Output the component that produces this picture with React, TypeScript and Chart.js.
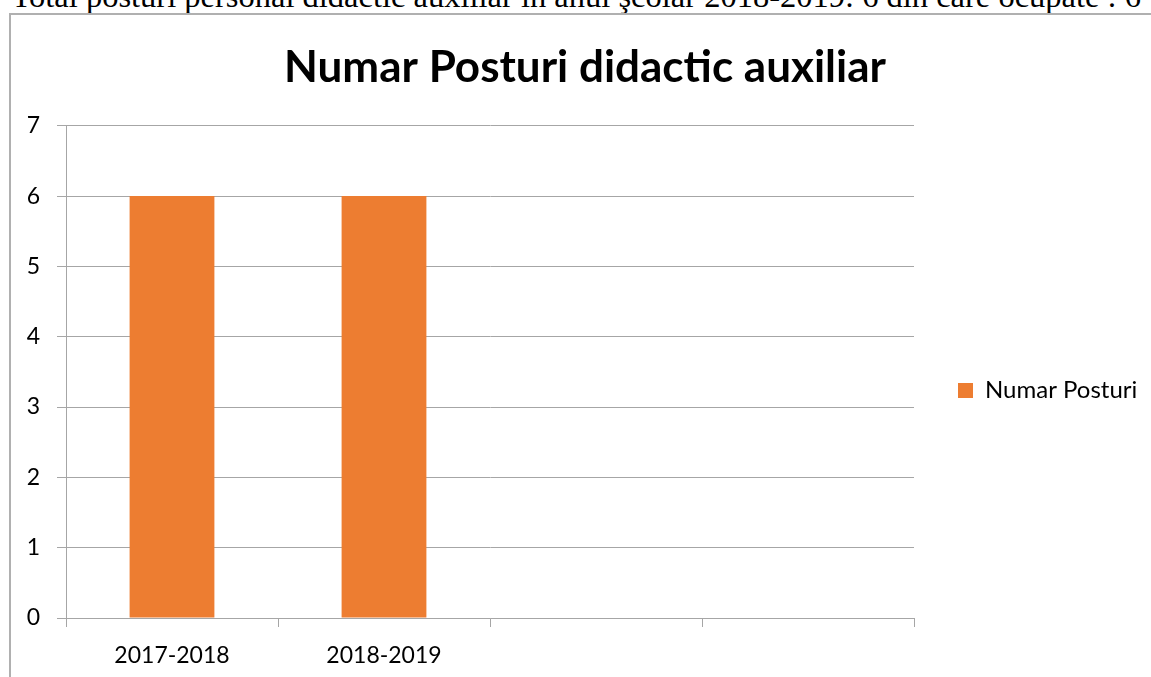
import React, { useEffect, useRef } from "react";
import { Chart, registerables } from "chart.js";

Chart.register(...registerables);

const headingText =
  "Total posturi personal didactic auxiliar în anul şcolar 2018-2019: 6 din care ocupate : 6";
const chartTitle = "Numar Posturi didactic auxiliar";
const categories = ["2017-2018", "2018-2019", "", ""];
const seriesLabel = "Numar Posturi";
const seriesValues: (number | null)[] = [6, 6, null, null];
const yTicks = [0, 1, 2, 3, 4, 5, 6, 7];

const ORANGE = "#ED7D31";
const GRID = "#a6a6a6";
const FONT = "Lato";

export default function App() {
  const canvasRef = useRef<HTMLCanvasElement | null>(null);

  useEffect(() => {
    if (!canvasRef.current) return;
    const chart = new Chart(canvasRef.current, {
      type: "bar",
      data: {
        labels: categories,
        datasets: [
          {
            label: seriesLabel,
            data: seriesValues,
            backgroundColor: ORANGE,
            borderWidth: 0,
            barPercentage: 0.4,
            categoryPercentage: 1,
          },
        ],
      },
      options: {
        responsive: false,
        animation: false,
        layout: { padding: { left: 12, right: 12, top: 0, bottom: 0 } },
        plugins: {
          tooltip: { enabled: false },
          title: {
            display: true,
            text: chartTitle,
            color: "#000",
            font: { family: FONT, size: 44, weight: "bold", lineHeight: 1.2 },
            padding: { top: 25, bottom: 32 },
          },
          legend: {
            display: true,
            position: "right",
            maxWidth: 233,
            labels: {
              color: "#000",
              font: { family: FONT, size: 24 },
              boxWidth: 15,
              boxHeight: 15,
              padding: 44,
            },
          },
        },
        scales: {
          x: {
            grid: {
              display: true,
              drawOnChartArea: false,
              drawTicks: true,
              tickLength: 9,
              color: GRID,
              offset: true,
            },
            border: { display: true, color: GRID, width: 1 },
            ticks: {
              color: "#000",
              font: { family: FONT, size: 23 },
              padding: 15,
              maxRotation: 0,
              autoSkip: false,
            },
            afterFit: (scale: any) => {
              scale.height = 147;
            },
          },
          y: {
            min: yTicks[0],
            max: yTicks[yTicks.length - 1],
            grid: {
              color: GRID,
              drawTicks: true,
              tickLength: 9,
            },
            border: { display: true, color: GRID, width: 1 },
            ticks: {
              stepSize: 1,
              color: "#000",
              font: { family: FONT, size: 23 },
              padding: 17,
            },
            afterFit: (scale: any) => {
              scale.width = 43;
            },
          },
        },
      },
    });
    return () => chart.destroy();
  }, []);

  return (
    <div
      style={{
        position: "fixed",
        left: 0,
        top: 0,
        width: 1151,
        height: 677,
        overflow: "hidden",
        background: "#fff",
      }}
    >
      <div
        style={{
          position: "absolute",
          left: 11.5,
          top: -20,
          fontFamily: "'Liberation Serif', 'Times New Roman', serif",
          fontSize: 32.5,
          lineHeight: "32.5px",
          whiteSpace: "nowrap",
          color: "#000",
        }}
      >
        {headingText}
      </div>
      <div
        style={{
          position: "absolute",
          left: 9,
          top: 13,
          width: 1300,
          height: 900,
          border: "2px solid #b0b0b0",
        }}
      />
      <canvas
        ref={canvasRef}
        width={1148}
        height={749}
        style={{ position: "absolute", left: 11, top: 16, width: 1148, height: 749 }}
      />
    </div>
  );
}
